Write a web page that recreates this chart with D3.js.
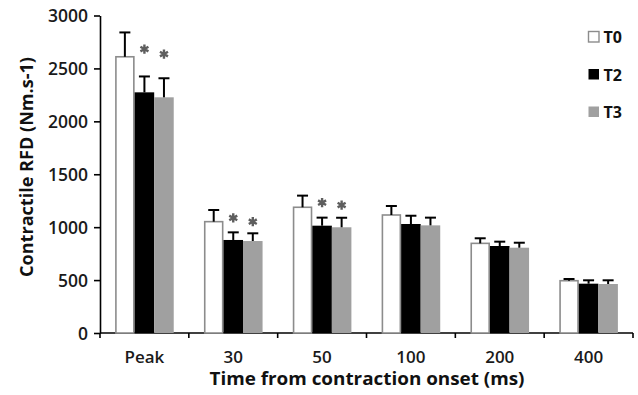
<!DOCTYPE html>
<html>
<head>
<meta charset="utf-8">
<script src="https://cdn.jsdelivr.net/npm/d3@7"></script>
<style>
  html, body { margin: 0; padding: 0; background: #fff; }
  svg { display: block; }
  text { font-family: "Open Sans", Lato, sans-serif; }
</style>
</head>
<body>
<svg id="chart" width="638" height="395"></svg>
<script>
const categories = ["Peak", "30", "50", "100", "200", "400"];
const seriesNames = ["T0", "T2", "T3"];
const t0Values = [2610, 1052, 1188, 1115, 847, 494];
const t2Values = [2274, 879, 1014, 1030, 822, 466];
const t3Values = [2227, 869, 999, 1017, 806, 463];
const t0Errors = [230, 110, 110, 85, 48, 16];
const t2Errors = [150, 72, 76, 78, 41, 32];
const t3Errors = [180, 73, 90, 73, 47, 35];
// significance markers (height of the asterisk, in data units; null = none)
const t2Stars = [2683, 1087, 1231, null, null, null];
const t3Stars = [2636, 1052, 1209, null, null, null];
const yTicks = [0, 500, 1000, 1500, 2000, 2500, 3000];

const fills = {T0: "#ffffff", T2: "#000000", T3: "#a0a0a0"};
const strokes = {T0: "#8c8c8c", T2: "#000000", T3: "#a0a0a0"};

const values = {T0: t0Values, T2: t2Values, T3: t3Values};
const errors = {T0: t0Errors, T2: t2Errors, T3: t3Errors};
const stars = {T0: categories.map(() => null), T2: t2Stars, T3: t3Stars};

const rows = [];
categories.forEach((c, i) => {
  seriesNames.forEach(s => {
    rows.push({cat: c, series: s, value: values[s][i], err: errors[s][i], star: stars[s][i]});
  });
});

const svg = d3.select("#chart");
const mLeft = 100, mRight = 633, mTop = 15.5, mBottom = 333;

const x0 = d3.scaleBand().domain(categories).range([mLeft, mRight])
  .paddingInner(0.34).paddingOuter(0.17);
const x1 = d3.scaleBand().domain(seriesNames).range([0, x0.bandwidth()]).padding(0);
const y = d3.scaleLinear().domain([0, 3000]).range([mBottom, mTop]);

// Y axis
const yAxis = svg.append("g").attr("transform", `translate(${mLeft},0)`)
  .call(d3.axisLeft(y).tickValues(yTicks).tickFormat(d3.format("d"))
    .tickSize(6).tickSizeOuter(0).tickPadding(6));
yAxis.select(".domain").attr("stroke", "#000").attr("stroke-width", 1.6);
yAxis.selectAll(".tick line").attr("stroke", "#000").attr("stroke-width", 1.6);
yAxis.selectAll(".tick text").attr("font-size", 17.5).attr("font-weight", 600).attr("fill", "#1a1a1a")
  .attr("font-family", "Open Sans, sans-serif").attr("dy", "0.36em");

// X axis
const step = x0.step();
const boundaries = d3.range(categories.length + 1).map(i => mLeft + i * step);
const xg = svg.append("g");
xg.append("line").attr("x1", mLeft).attr("x2", mRight).attr("y1", mBottom).attr("y2", mBottom)
  .attr("stroke", "#000").attr("stroke-width", 1.6);
xg.selectAll("line.tk").data(boundaries).join("line").attr("class", "tk")
  .attr("x1", d => d).attr("x2", d => d).attr("y1", mBottom).attr("y2", mBottom + 5)
  .attr("stroke", "#000").attr("stroke-width", 1.6);
xg.selectAll("text").data(categories).join("text")
  .attr("x", d => x0(d) + x0.bandwidth() / 2).attr("y", 362.5)
  .attr("text-anchor", "middle").attr("font-size", 17).attr("font-weight", 600).attr("fill", "#1a1a1a")
  .text(d => d);

// Bars
const g = svg.append("g");
g.selectAll("rect.bar").data(rows).join("rect").attr("class", "bar")
  .attr("x", d => x0(d.cat) + x1(d.series) + (d.series === "T0" ? 0.8 : 0))
  .attr("width", d => x1.bandwidth() - (d.series === "T0" ? 1.6 : 0))
  .attr("y", d => y(d.value))
  .attr("height", d => mBottom - y(d.value))
  .attr("fill", d => fills[d.series])
  .attr("stroke", d => d.series === "T0" ? strokes.T0 : "none")
  .attr("stroke-width", 1.6);

// Error bars (upper only)
const cx = d => x0(d.cat) + x1(d.series) + x1.bandwidth() / 2;
g.selectAll("line.err").data(rows).join("line").attr("class", "err")
  .attr("x1", cx).attr("x2", cx)
  .attr("y1", d => y(d.value)).attr("y2", d => y(d.value + d.err))
  .attr("stroke", "#000").attr("stroke-width", 2);
g.selectAll("line.cap").data(rows).join("line").attr("class", "cap")
  .attr("x1", d => cx(d) - 5.5).attr("x2", d => cx(d) + 5.5)
  .attr("y1", d => y(d.value + d.err)).attr("y2", d => y(d.value + d.err))
  .attr("stroke", "#000").attr("stroke-width", 2);

// Significance asterisks
const star = d3.symbol().type(d3.symbolAsterisk).size(60);
g.selectAll("path.star").data(rows.filter(d => d.star != null)).join("path").attr("class", "star")
  .attr("transform", d => `translate(${cx(d)},${y(d.star)})`)
  .attr("d", star)
  .attr("fill", "none").attr("stroke", "#5e5e5e").attr("stroke-width", 2.4);

// Legend
const legend = svg.append("g");
seriesNames.forEach((s, i) => {
  const ly = 31 + i * 37.5;
  legend.append("rect").attr("x", 588.5).attr("y", ly + 0.5).attr("width", 10.5).attr("height", 10.5)
    .attr("fill", fills[s]).attr("stroke", strokes[s]).attr("stroke-width", s === "T0" ? 1.4 : 0);
  legend.append("text").attr("x", 603.5).attr("y", ly + 12)
    .attr("font-size", 16).attr("font-weight", "bold").attr("fill", "#111").text(s);
});

// Axis titles
svg.append("text")
  .attr("transform", `translate(33,167) rotate(-90)`)
  .attr("text-anchor", "middle").attr("font-size", 17.5).attr("font-weight", "bold")
  .attr("textLength", 220).attr("lengthAdjust", "spacingAndGlyphs")
  .attr("fill", "#111").text("Contractile RFD (Nm.s-1)");
svg.append("text")
  .attr("x", 367).attr("y", 385)
  .attr("text-anchor", "middle").attr("font-size", 18).attr("font-weight", "bold")
  .attr("textLength", 315).attr("lengthAdjust", "spacingAndGlyphs")
  .attr("fill", "#111").text("Time from contraction onset (ms)");
</script>
</body>
</html>
